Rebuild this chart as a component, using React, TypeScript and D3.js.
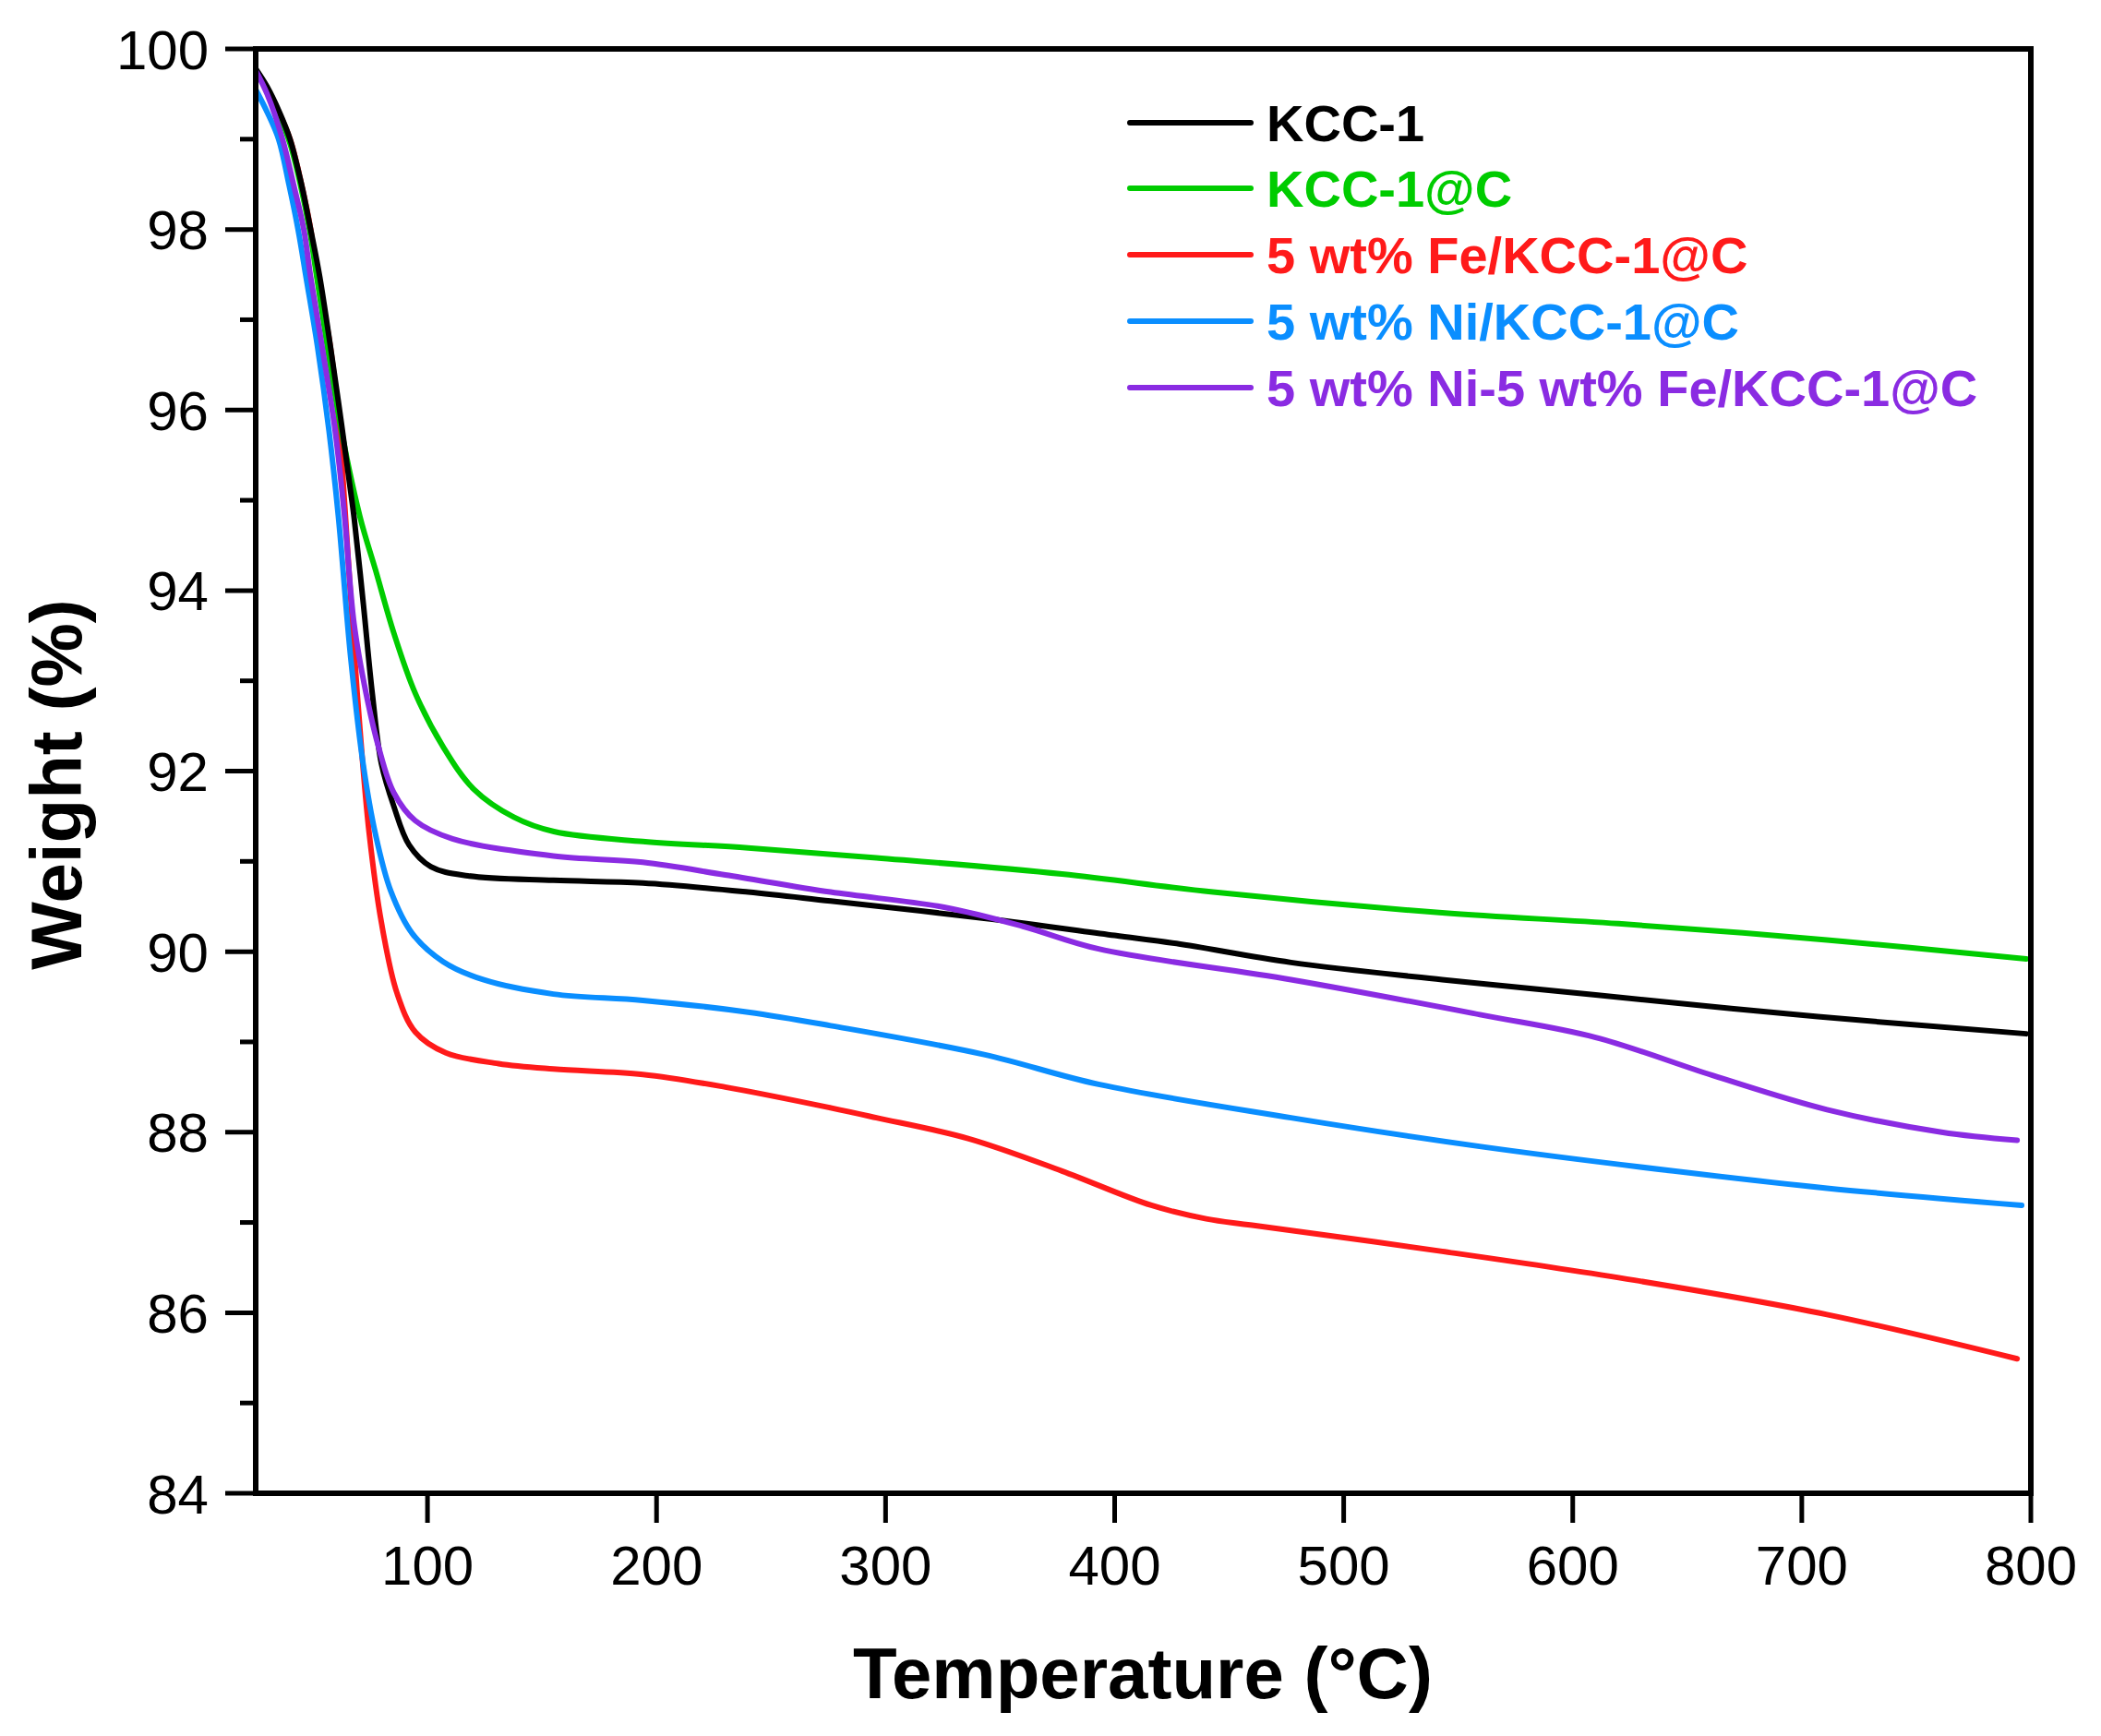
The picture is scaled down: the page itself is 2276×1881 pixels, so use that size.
import React from "react";
import * as d3 from "d3";

const W = 2276;
const H = 1881;

const seriesNames = [
  "KCC-1",
  "KCC-1@C",
  "5 wt% Fe/KCC-1@C",
  "5 wt% Ni/KCC-1@C",
  "5 wt% Ni-5 wt% Fe/KCC-1@C",
];
const seriesColors = ["#000000", "#00CC00", "#FF1A1A", "#0A8EFF", "#8A2BE2"];

const kcc1: [number, number][] = [
  [25, 99.78], [30, 99.58], [35, 99.32], [40, 99.0], [45, 98.5], [49, 98.0], [53, 97.47], [61, 96.11],
  [66.5, 95.09], [68, 94.8], [72, 93.85], [75.9, 92.86], [79.9, 92.08], [85.3, 91.61], [92, 91.18],
  [101.5, 90.94], [117.6, 90.84], [155, 90.79], [194, 90.76], [240, 90.66],
  [276, 90.56], [343, 90.37], [400, 90.18], [427, 90.09], [477, 89.88], [543, 89.69], [610, 89.52],
  [707, 89.28], [798, 89.09],
];
const kcc1C: [number, number][] = [
  [25, 99.75], [30, 99.55], [35, 99.28], [40, 98.95], [44.5, 98.5], [48.5, 98.0], [51.7, 97.47],
  [61.2, 95.94], [70.5, 94.82], [77.3, 94.23], [85.3, 93.53], [94.7, 92.86], [106.8, 92.27],
  [120.2, 91.8], [137.7, 91.49], [155.2, 91.33], [194, 91.22], [240, 91.15], [296, 91.04],
  [377, 90.86], [443, 90.66], [543, 90.43], [620, 90.31], [711, 90.13], [798, 89.92],
];
const feKcc: [number, number][] = [
  [25, 99.76], [30, 99.56], [35, 99.3], [40, 99.0], [45, 98.5], [49, 98.0], [52, 97.45], [57, 96.8],
  [61, 95.95], [64, 94.9], [67.2, 93.64], [70.5, 92.47], [74.6, 91.3], [79.9, 90.32], [86.7, 89.54],
  [94.7, 89.11], [108, 88.88], [131, 88.76], [155, 88.7], [194, 88.64], [230, 88.5],
  [276, 88.27], [296, 88.16], [336, 87.93], [377, 87.57], [416, 87.19], [440, 87.04], [460, 86.97],
  [543, 86.68], [627, 86.36], [711, 85.98], [794, 85.49],
];
const niKcc: [number, number][] = [
  [25, 99.55], [30, 99.3], [35, 99.0], [39.5, 98.5], [43.5, 98.0], [47, 97.47], [52, 96.7],
  [57, 95.77], [61.1, 94.82], [66.5, 93.25], [71.9, 92.08], [77.3, 91.3], [84, 90.67], [93.4, 90.2],
  [106.8, 89.89], [124.3, 89.69], [155, 89.53], [194, 89.46],
  [240, 89.33], [276, 89.18], [343, 88.86], [393, 88.53], [477, 88.16], [560, 87.84], [644, 87.57],
  [711, 87.38], [796, 87.19],
];
const niFeKcc: [number, number][] = [
  [25, 99.76], [30, 99.5], [36.7, 99.0], [41.5, 98.5], [46, 98.0], [49, 97.47], [54, 96.7],
  [59.7, 95.77], [63.8, 94.82], [67.9, 93.64], [73.2, 92.86], [78.6, 92.27], [85.3, 91.76],
  [94.7, 91.45], [110.9, 91.25], [155, 91.06], [194, 90.99], [230, 90.85], [276, 90.66],
  [326, 90.49], [360, 90.28], [393, 90.03], [477, 89.69], [560, 89.3], [610, 89.05], [661, 88.63],
  [711, 88.25], [761, 88.0], [794, 87.91],
];
const allSeries = [kcc1, kcc1C, feKcc, niKcc, niFeKcc];
// draw order (back to front)
const drawOrder = [2, 3, 1, 0, 4];

const xTicks = [100, 200, 300, 400, 500, 600, 700, 800];
const yTicks = [84, 86, 88, 90, 92, 94, 96, 98, 100];
const yMinorTicks = [85, 87, 89, 91, 93, 95, 97, 99];

const xTitle = "Temperature (°C)";
const yTitle = "Weight (%)";

const L = 277, R = 2200, T = 53, B = 1618;

export default function App() {
  const x = d3.scaleLinear().domain([25, 800]).range([L, R]);
  const y = d3.scaleLinear().domain([84, 100]).range([B, T]);
  const line = d3
    .line<[number, number]>()
    .x((d) => x(d[0]))
    .y((d) => y(d[1]))
    .curve(d3.curveCatmullRom.alpha(0.5));

  const font = "'Liberation Sans', Arial, Helvetica, sans-serif";
  const legendRows = [133, 204, 276, 348, 420];

  return (
    <svg
      width={W}
      height={H}
      viewBox={`0 0 ${W} ${H}`}
      style={{ position: "absolute", left: 0, top: 0, display: "block", background: "#fff" }}
      fontFamily={font}
    >
      <rect x={0} y={0} width={W} height={H} fill="#fff" />
      <defs>
        <clipPath id="plotClip">
          <rect x={L} y={T} width={R - L} height={B - T} />
        </clipPath>
      </defs>
      <g clipPath="url(#plotClip)">
        {drawOrder.map((i) => (
          <path
            key={i}
            d={line(allSeries[i]) || ""}
            fill="none"
            stroke={seriesColors[i]}
            strokeWidth={6}
            strokeLinejoin="round"
            strokeLinecap="round"
          />
        ))}
      </g>
      {/* frame */}
      <rect x={L} y={T} width={R - L} height={B - T} fill="none" stroke="#000" strokeWidth={6} />
      {/* y ticks */}
      {yTicks.map((v) => (
        <g key={"y" + v}>
          <line x1={L - 33} x2={L} y1={y(v)} y2={y(v)} stroke="#000" strokeWidth={5} />
          <text x={226} y={y(v)} dy="0.36em" textAnchor="end" fontSize={60} fill="#000">
            {v}
          </text>
        </g>
      ))}
      {yMinorTicks.map((v) => (
        <line key={"ym" + v} x1={L - 17} x2={L} y1={y(v)} y2={y(v)} stroke="#000" strokeWidth={5} />
      ))}
      {/* x ticks */}
      {xTicks.map((v) => (
        <g key={"x" + v}>
          <line x1={x(v)} x2={x(v)} y1={B} y2={B + 32} stroke="#000" strokeWidth={5} />
          <text x={x(v)} y={1717} textAnchor="middle" fontSize={60} fill="#000">
            {v}
          </text>
        </g>
      ))}
      {/* axis titles */}
      <text x={1238} y={1840} textAnchor="middle" fontSize={78} fontWeight="bold" fill="#000">
        {xTitle}
      </text>
      <text
        transform={`translate(88, 850) rotate(-90)`}
        textAnchor="middle"
        fontSize={78}
        fontWeight="bold"
        fill="#000"
      >
        {yTitle}
      </text>
      {/* legend */}
      {seriesNames.map((name, i) => (
        <g key={"lg" + i}>
          <line
            x1={1224}
            x2={1355}
            y1={legendRows[i]}
            y2={legendRows[i]}
            stroke={seriesColors[i]}
            strokeWidth={6}
            strokeLinecap="round"
          />
          <text x={1372} y={legendRows[i] + 20} fontSize={56} fontWeight="bold" fill={seriesColors[i]}>
            {name}
          </text>
        </g>
      ))}
    </svg>
  );
}
